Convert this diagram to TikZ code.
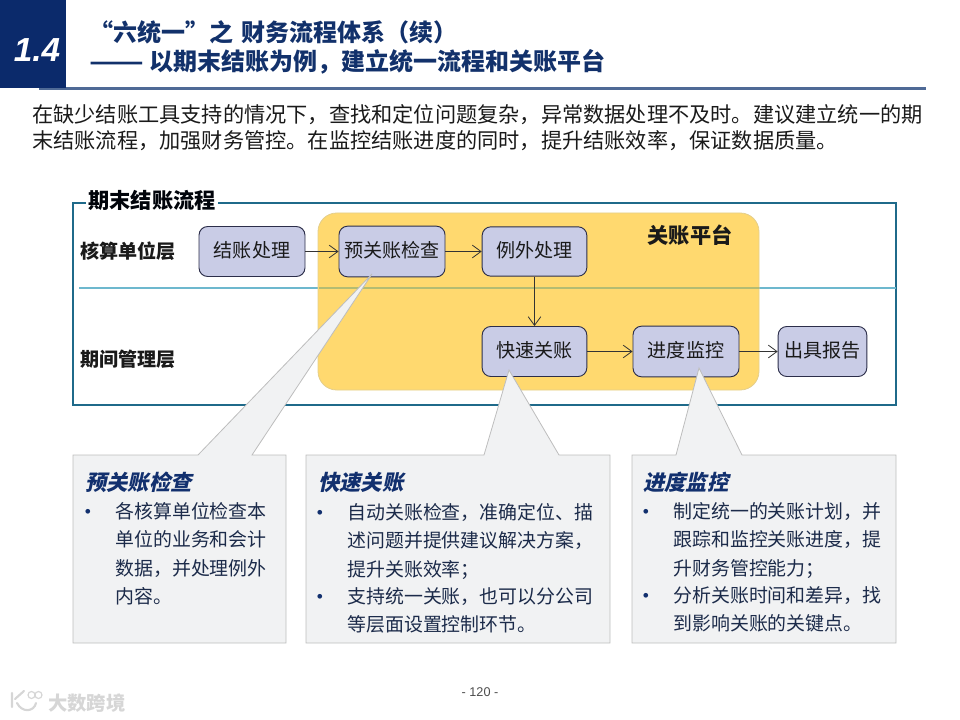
\documentclass[tikz,border=0pt]{standalone}
\usepackage{fontspec}
\setmainfont{Noto Sans CJK SC}
\newfontfamily\hdit[FakeSlant=0.22]{Noto Sans CJK SC}
\newfontfamily\latinf{Liberation Sans}
\usetikzlibrary{arrows.meta}
\newcommand{\fs}[1]{\fontsize{#1}{#1}\selectfont}
\definecolor{navy}{HTML}{0B2A6B}
\definecolor{titleblue}{HTML}{12316B}
\definecolor{barblue}{HTML}{4F6A96}
\definecolor{frameblue}{HTML}{1F6A8A}
\definecolor{linecyan}{HTML}{6DB8CE}
\definecolor{lineolive}{HTML}{B4BC72}
\definecolor{platyellow}{HTML}{FFD96F}
\definecolor{platedge}{HTML}{E3CE8C}
\definecolor{stepfill}{HTML}{C9CCE6}
\definecolor{stepedge}{HTML}{2C2E4A}
\definecolor{calloutfill}{HTML}{F1F2F3}
\definecolor{calloutedge}{HTML}{BDBDBD}
\definecolor{inktext}{HTML}{1A1A1A}
\definecolor{bodyink}{HTML}{1C2B4A}
\definecolor{hdblue}{HTML}{12306E}
\definecolor{marklight}{HTML}{D6D6D6}
\tikzset{
  x=0.75pt,y=-0.75pt,
  stepbox/.style={draw=stepedge,fill=stepfill,line width=0.7pt,rounded corners=6.5pt,inner sep=0pt,text=inktext,font=\fs{14.3},text height=11.6pt,text depth=2pt},
  flowarr/.style={draw=black!80,line width=0.6pt,-{Straight Barb[length=6.5pt,width=9.5pt,line width=0.6pt]}},
  callout/.style={draw=calloutedge,fill=calloutfill,line width=0.6pt,line join=miter},
  rowlabel/.style={anchor=west,inner sep=0pt,font=\bfseries\fs{14.3},text=inktext},
  cohead/.style={anchor=west,inner sep=0pt,font=\hdit\bfseries\fs{16},text=hdblue},
  cobody/.style={anchor=north west,inner sep=0pt,align=left,font=\fs{14.2},text=bodyink},
  cobullet/.style={anchor=center,inner sep=0pt,font=\latinf\fs{13},text=hdblue},
  introtext/.style={anchor=west,inner sep=0pt,font=\fs{15.9},text=inktext},
  titletext/.style={anchor=west,inner sep=0pt,font=\bfseries\fs{18},text=titleblue},
}
\begin{document}
\begin{tikzpicture}
\useasboundingbox (0,0) rectangle (960,720);
% header
\fill[barblue] (39,87) rectangle (926,90);
\fill[navy] (0,0) rectangle (66,88);
\node[inner sep=0pt,text=white,font=\latinf\bfseries\itshape\fs{25}] (secnum) at (37,50) {1.4};
\node[titletext] (title1) at (89,32) {“六统一”之 \hspace{2pt}财务流程体系（续）};
\node[titletext] (title2) at (89,62) {\scalebox{1.33}[1]{——} 以期末结账为例，建立统一流程和关账平台};
\node[introtext] (intro1) at (32,114.5) {在缺少结账工具支持的情况下，查找和定位问题复杂，异常数据处理不及时。建议建立统一的期};
\node[introtext] (intro2) at (32,140.5) {末结账流程，加强财务管控。在监控结账进度的同时，提升结账效率，保证数据质量。};
% frame
\draw[frameblue,line width=1.4pt] (73,203) rectangle (896,405);
\draw[linecyan,line width=0.8pt] (79,288) -- (896,288);
\node[fill=white,inner xsep=2pt,inner ysep=0pt,font=\bfseries\fs{15.9},text=black!90!navy] (flowlabel) at (152,200) {期末结账流程};
% platform
\draw[platedge,fill=platyellow,line width=0.6pt,rounded corners=14pt] (318,213) rectangle (759,390);
\draw[lineolive,line width=0.8pt] (318.5,288) -- (758.5,288);
\node[inner sep=0pt,font=\bfseries\fs{15.9},text=inktext] (platlabel) at (690,235) {关账平台};
\node[rowlabel] (row1) at (80,251) {核算单位层};
\node[rowlabel] (row2) at (80,359) {期间管理层};
% steps
\node[stepbox,minimum width=79.5pt,minimum height=37.5pt] (s1) at (252,251.5) {结账处理};
\node[stepbox,minimum width=79.5pt,minimum height=38pt] (s2) at (392,251.5) {预关账检查};
\node[stepbox,minimum width=78.5pt,minimum height=37pt] (s3) at (534.5,251.5) {例外处理};
\node[stepbox,minimum width=78.5pt,minimum height=37.5pt] (s4) at (534.5,351.5) {快速关账};
\node[stepbox,minimum width=79.5pt,minimum height=38pt] (s5) at (686,351.5) {进度监控};
\node[stepbox,minimum width=66.5pt,minimum height=37.5pt] (s6) at (822.5,351.5) {出具报告};
\draw[flowarr] (s1.east) -- (s2.west);
\draw[flowarr] (s2.east) -- (s3.west);
\draw[flowarr] (s3.south) -- (s4.north);
\draw[flowarr] (s4.east) -- (s5.west);
\draw[flowarr] (s5.east) -- (s6.west);
% callouts
\draw[callout] (73,455) -- (198,455) -- (372,274) -- (252,455) -- (286,455) -- (286,643) -- (73,643) -- cycle;
\draw[callout] (306,455) -- (484,455) -- (509,370) -- (559,455) -- (610,455) -- (610,643) -- (306,643) -- cycle;
\draw[callout] (632,455) -- (676,455) -- (699,368) -- (742,455) -- (896,455) -- (896,643) -- (632,643) -- cycle;
% callout 1
\node[cohead] (h1) at (85,482) {预关账检查};
\node[cobullet] (b11) at (88,513) {•};
\node[cobody] (t11) at (115,502) {各核算单位检查本\\[7.1pt]单位的业务和会计\\[7.1pt]数据，并处理例外\\[7.1pt]内容。};
% callout 2
\node[cohead] (h2) at (318,482) {快速关账};
\node[cobullet] (b21) at (320,514) {•};
\node[cobody] (t21) at (347,503) {自动关账检查，准确定位、描\\[7.1pt]述问题并提供建议解决方案，\\[7.1pt]提升关账效率；};
\node[cobullet] (b22) at (320,598) {•};
\node[cobody] (t22) at (347,587) {支持统一关账，也可以分公司\\[7.1pt]等层面设置控制环节。};
% callout 3
\node[cohead] (h3) at (643,482) {进度监控};
\node[cobullet] (b31) at (646,513) {•};
\node[cobody] (t31) at (673,502) {制定统一的关账计划，并\\[7.1pt]跟踪和监控关账进度，提\\[7.1pt]升财务管控能力；};
\node[cobullet] (b32) at (646,597) {•};
\node[cobody] (t32) at (673,586) {分析关账时间和差异，找\\[7.1pt]到影响关账的关键点。};
% footer
\node[inner sep=0pt,font=\latinf\fs{9.5},text=black!70] (pagenum) at (480,692) {- 120 -};
\node[anchor=west,inner sep=0pt,font=\bfseries\fs{14.5},text=marklight] (wm) at (48,703) {大数跨境};
\draw[marklight,line width=1.6pt,line cap=round] (12,693) -- (12,707) (24,691) -- (15,699) (17,703) .. controls (22,713) and (34,712) .. (36,703);
\draw[marklight,line width=0.9pt] (31.5,695) circle (3.5) (38.5,695) circle (3.5);
\end{tikzpicture}
\end{document}
